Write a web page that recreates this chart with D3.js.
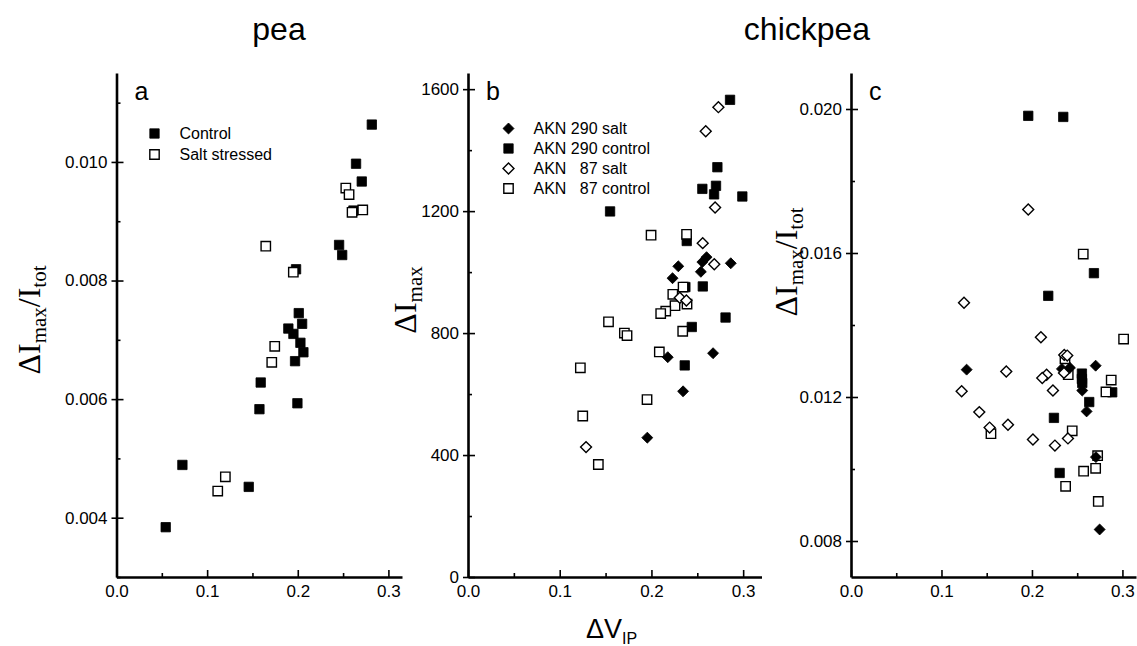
<!DOCTYPE html>
<html>
<head>
<meta charset="utf-8">
<script src="https://cdn.jsdelivr.net/npm/d3@7"></script>
<style>
  body { margin: 0; background: #fff; }
  text { font-family: "Liberation Sans", Arial, sans-serif; fill: #000; }
  .serif { font-family: "Liberation Serif", "Times New Roman", serif; }
  .domain { stroke-width: 2.6px; }
</style>
</head>
<body>
<div id="chart"></div>
<script>
// pea, panel a : dV_IP vs dImax/Itot
var peaControl = [[0.0543,0.00384],[0.0727,0.00489],[0.1459,0.00452],[0.1577,0.00583],[0.1591,0.00628],
  [0.1896,0.00719],[0.1952,0.0071],[0.197,0.00664],[0.1996,0.00593],[0.2011,0.00745],[0.2048,0.00727],
  [0.2029,0.00695],[0.2062,0.00679],[0.1981,0.00819],[0.2456,0.0086],[0.249,0.00843],[0.2643,0.00997],
  [0.2706,0.00967],[0.2817,0.01063],[0.2614,0.00918]];
var peaSalt = [[0.1117,0.00445],[0.1201,0.00469],[0.1713,0.00662],[0.1746,0.00689],[0.1647,0.00858],
  [0.1951,0.00814],[0.253,0.00956],[0.2566,0.00945],[0.2599,0.00915],[0.2717,0.00919]];

// chickpea, panel b : dV_IP vs dImax
var b290Salt = [[0.2293,1019],[0.223,980],[0.2601,1049],[0.2555,1033],[0.2539,1001],[0.2865,1029],
  [0.2178,721],[0.2672,734],[0.2345,609],[0.1955,457]];
var b290Control = [[0.2857,1565],[0.2719,1344],[0.2555,1273],[0.2704,1283],[0.2683,1255],[0.2991,1248],
  [0.1549,1199],[0.2385,1102],[0.256,953],[0.237,951],[0.2808,851],[0.244,820],[0.2363,694]];
var b87Salt = [[0.273,1541],[0.2592,1462],[0.2694,1212],[0.2559,1095],[0.2685,1026],[0.2309,916],
  [0.2381,907],[0.1287,426]];
var b87Control = [[0.1996,1121],[0.2383,1124],[0.2345,951],[0.2233,927],[0.2388,895],[0.2257,890],
  [0.2156,872],[0.2101,864],[0.1532,837],[0.1705,800],[0.1734,792],[0.2341,806],[0.2086,738],
  [0.1225,686],[0.1952,582],[0.1251,528],[0.1421,369]];

// chickpea, panel c : dV_IP vs dImax/Itot
var c290Salt = [[0.1278,0.01276],[0.2331,0.01278],[0.242,0.01281],[0.2704,0.01287],[0.2556,0.01218],
  [0.2604,0.0116],[0.2707,0.01033],[0.2748,0.00832]];
var c290Control = [[0.1959,0.01981],[0.2346,0.01978],[0.2685,0.01544],[0.218,0.01481],[0.2552,0.01265],
  [0.2552,0.0125],[0.2556,0.01239],[0.2887,0.01213],[0.2633,0.01186],[0.2243,0.01142],[0.2306,0.00989]];
var c87Salt = [[0.1959,0.01721],[0.1249,0.01462],[0.2099,0.01366],[0.2357,0.01317],[0.239,0.01315],
  [0.1716,0.01271],[0.2354,0.01267],[0.2162,0.01262],[0.2114,0.01253],[0.2232,0.01218],[0.1223,0.01216],
  [0.1418,0.01158],[0.1735,0.01123],[0.1532,0.01115],[0.2398,0.01085],[0.2011,0.01082],[0.2254,0.01065]];
var c87Control = [[0.2567,0.01597],[0.3013,0.01361],[0.2365,0.01306],[0.2401,0.01262],[0.2876,0.01247],
  [0.2818,0.01214],[0.1547,0.01098],[0.2445,0.01106],[0.2726,0.01037],[0.2704,0.01002],[0.2571,0.00994],
  [0.2372,0.00952],[0.2733,0.0091]];

var xTicks = [0.0, 0.1, 0.2, 0.3];
var xMinor = [0.05, 0.15, 0.25];
var aTicks = [0.004, 0.006, 0.008, 0.010];
var aMinor = [0.003, 0.005, 0.007, 0.009, 0.011];
var bTicks = [0, 400, 800, 1200, 1600];
var bMinor = [200, 600, 1000, 1400];
var cTicks = [0.008, 0.012, 0.016, 0.020];
var cMinor = [0.010, 0.014, 0.018];

var legendPea = ["Control", "Salt stressed"];
var legendChick = ["AKN 290 salt", "AKN 290 control", "AKN   87 salt", "AKN   87 control"];

var width = 1137, height = 646;
var plotTop = 73, plotBottom = 577;

var svg = d3.select("#chart").append("svg")
  .attr("width", width)
  .attr("height", height);

function marker(sel, shape, filled) {
  // square or diamond, filled black or open white
  var sym = d3.symbol().type(d3.symbolSquare).size(shape == "sq" ? 88 : 60);
  sel.attr("d", sym())
    .attr("fill", filled ? "#000" : "#fff")
    .attr("stroke", "#000")
    .attr("stroke-width", filled ? 0.8 : 1.4);
}

function panel(opt) {
  var x = d3.scaleLinear().domain([0, opt.xmax]).range([opt.left, opt.right]);
  var y = d3.scaleLinear().domain(opt.ydom).range([plotBottom, plotTop]);
  var g = svg.append("g");

  // minor ticks first
  g.append("g").attr("transform", "translate(0," + plotBottom + ")")
    .call(d3.axisBottom(x).tickValues(xMinor).tickSizeInner(-4).tickSizeOuter(0).tickFormat(""))
    .call(function(s) { s.select(".domain").remove(); s.selectAll("line").attr("stroke-width", 1.6); });
  g.append("g").attr("transform", "translate(" + opt.left + ",0)")
    .call(d3.axisLeft(y).tickValues(opt.minor).tickSizeInner(-4).tickSizeOuter(0).tickFormat(""))
    .call(function(s) { s.select(".domain").remove(); s.selectAll("line").attr("stroke-width", 1.6); });

  var xa = g.append("g").attr("transform", "translate(0," + plotBottom + ")")
    .call(d3.axisBottom(x).tickValues(xTicks).tickSizeInner(-7).tickSizeOuter(0).tickPadding(8)
      .tickFormat(d3.format(".1f")));
  var ya = g.append("g").attr("transform", "translate(" + opt.left + ",0)")
    .call(d3.axisLeft(y).tickValues(opt.ticks).tickSizeInner(-7).tickSizeOuter(0).tickPadding(9)
      .tickFormat(d3.format(opt.fmt)));
  ya.selectAll(".tick line").attr("x1", -5);
  [xa, ya].forEach(function(a) {
    a.selectAll("line").attr("stroke-width", 1.6);
    a.selectAll("text").style("font-size", "17px").style("font-family", "'Liberation Sans', Arial, sans-serif");
  });

  opt.series.forEach(function(s) {
    g.append("g").selectAll("path").data(s.data).enter().append("path")
      .call(marker, s.shape, s.filled)
      .attr("transform", function(d) {
        return "translate(" + x(d[0]) + "," + y(d[1]) + ")" + (s.shape == "dia" ? " rotate(45)" : "");
      });
  });

  g.append("text").attr("x", opt.left + 18).attr("y", 100)
    .style("font-size", "25px").text(opt.letter);

  // legend
  if (opt.legend) {
    var lg = g.append("g");
    opt.legend.forEach(function(l, i) {
      var s = opt.legendSeries[i];
      var yy = opt.legY + i * opt.legStep;
      lg.append("path").call(marker, s.shape, s.filled)
        .attr("transform", "translate(" + opt.legX + "," + yy + ")" + (s.shape == "dia" ? " rotate(45)" : ""));
      lg.append("text").attr("x", opt.legX + 25).attr("y", yy + 5.5)
        .style("font-size", "16px").style("white-space", "pre").attr("xml:space", "preserve")
        .text(l);
    });
  }
  return g;
}

var sFilledSq = {shape: "sq", filled: true}, sOpenSq = {shape: "sq", filled: false};
var sFilledDia = {shape: "dia", filled: true}, sOpenDia = {shape: "dia", filled: false};

panel({
  left: 116.5, right: 402, xmax: 0.315, ydom: [0.003, 0.0115],
  ticks: aTicks, minor: aMinor, fmt: ".3f", letter: "a",
  series: [
    {data: peaControl, shape: "sq", filled: true},
    {data: peaSalt, shape: "sq", filled: false}
  ],
  legend: legendPea, legendSeries: [sFilledSq, sOpenSq], legX: 154.5, legY: 133.5, legStep: 21
});

panel({
  left: 468, right: 761.5, xmax: 0.32, ydom: [0, 1653],
  ticks: bTicks, minor: bMinor, fmt: "d", letter: "b",
  series: [
    {data: b290Control, shape: "sq", filled: true},
    {data: b87Control, shape: "sq", filled: false},
    {data: b290Salt, shape: "dia", filled: true},
    {data: b87Salt, shape: "dia", filled: false}
  ],
  legend: legendChick, legendSeries: [sFilledDia, sFilledSq, sOpenDia, sOpenSq], legX: 508.5, legY: 128.5, legStep: 20
});

panel({
  left: 851, right: 1136, xmax: 0.315, ydom: [0.007, 0.021],
  ticks: cTicks, minor: cMinor, fmt: ".3f", letter: "c",
  series: [
    {data: c290Control, shape: "sq", filled: true},
    {data: c87Control, shape: "sq", filled: false},
    {data: c290Salt, shape: "dia", filled: true},
    {data: c87Salt, shape: "dia", filled: false}
  ]
});

// headers
svg.append("text").attr("x", 279).attr("y", 40).attr("text-anchor", "middle")
  .style("font-size", "32px").text("pea");
svg.append("text").attr("x", 807).attr("y", 40).attr("text-anchor", "middle")
  .style("font-size", "32px").text("chickpea");

// rotated y titles with subscripts
function yTitle(xp, yp, withTot) {
  var t = svg.append("text").attr("class", "serif")
    .attr("transform", "translate(" + xp + "," + yp + ") rotate(-90)")
    .attr("text-anchor", "middle")
    .style("font-size", "32px");
  t.append("tspan").text("\u0394I");
  t.append("tspan").attr("dy", 6).style("font-size", "21px").text("max");
  if (withTot) {
    t.append("tspan").attr("dy", -6).text("/I");
    t.append("tspan").attr("dy", 6).style("font-size", "21px").text("tot");
  }
}
yTitle(40, 320, true);
yTitle(416, 300, false);
yTitle(797, 262, true);

// x title
var xt = svg.append("text").attr("x", 586).attr("y", 638).style("font-size", "27px");
xt.append("tspan").text("\u0394V");
xt.append("tspan").attr("dy", 6).style("font-size", "16px").text("IP");
</script>
</body>
</html>
